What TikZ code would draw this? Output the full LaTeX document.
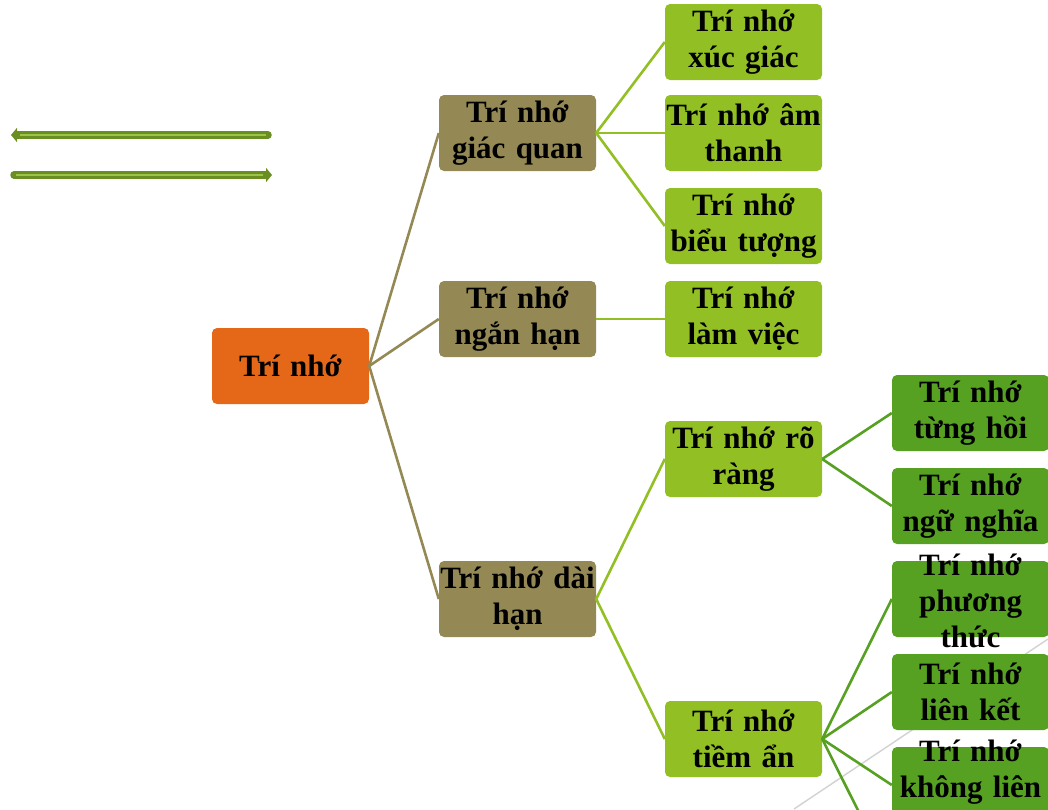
\documentclass[tikz,border=0pt]{standalone}
\usepackage{fontspec}
\setmainfont{Liberation Serif}
\usetikzlibrary{arrows.meta}
\definecolor{rootorange}{RGB}{228, 104, 24}
\definecolor{branchtan}{RGB}{148, 137, 84}
\definecolor{leafgreen}{RGB}{146, 192, 36}
\definecolor{deepgreen}{RGB}{86, 160, 34}
\definecolor{arrowolive}{RGB}{107, 142, 35}
\definecolor{arrowlight}{RGB}{156, 196, 70}

\begin{document}
\begin{tikzpicture}[x=1pt, y=-1pt,
        base/.style={rounded corners=5pt, align=center, text width=157pt, inner xsep=0pt, inner ysep=0pt, minimum height=76pt, font=\fontsize{31}{36}\selectfont\bfseries},
        rootbox/.style={base, fill=rootorange},
        midbox/.style={base, fill=branchtan},
        leafbox/.style={base, fill=leafgreen},
        deepbox/.style={base, fill=deepgreen},
        tall/.style={text height=14pt, text depth=62pt},
        tanlink/.style={line width=2.6pt, draw=branchtan},
        leaflink/.style={line width=2.6pt, draw=leafgreen},
        deeplink/.style={line width=2.6pt, draw=deepgreen},
        bigarrow/.style={draw=arrowolive, line width=7.5pt, line cap=round, -{Triangle[length=6pt, width=14pt]}},
        innerline/.style={draw=arrowlight, line width=1.2pt, shorten >=9pt, shorten <=2pt}
    ]
        \useasboundingbox (0, 0) rectangle (1048, 809);
        \draw [gray!35, line width=1.4pt] (794, 809) -- (1048, 639);

        % Arrows top left
        \coordinate (lstart) at (268, 135);
        \coordinate (lend) at (11, 135);
        \coordinate (rstart) at (14, 175);
        \coordinate (rend) at (272, 175);
        \draw [bigarrow] (lstart) -- (lend);
        \draw [bigarrow] (rstart) -- (rend);
        \draw [innerline] (lstart) -- (lend);
        \draw [innerline] (rstart) -- (rend);

        % Root
        \node (mem) [rootbox] at (290.5, 366) {Trí nhớ};

        % Level 1
        \node (sensory) [midbox] at (517.5, 133) {Trí nhớ\\giác quan};
        \node (short) [midbox] at (517.5, 319) {Trí nhớ\\ngắn hạn};
        \node (long) [midbox] at (517.5, 599) {Trí nhớ dài\\hạn};

        % Level 2
        \node (touch) [leafbox] at (743.5, 42) {Trí nhớ\\xúc giác};
        \node (sound) [leafbox] at (743.5, 133) {Trí nhớ âm\\thanh};
        \node (image) [leafbox] at (743.5, 226) {Trí nhớ\\biểu tượng};
        \node (work) [leafbox] at (743.5, 319) {Trí nhớ\\làm việc};
        \node (explicit) [leafbox] at (743.5, 459) {Trí nhớ rõ\\ràng};
        \node (implicit) [leafbox] at (743.5, 739) {Trí nhớ\\tiềm ẩn};

        % Level 3
        \node (episode) [deepbox] at (970.5, 413) {Trí nhớ\\từng hồi};
        \node (meaning) [deepbox] at (970.5, 506) {Trí nhớ\\ngữ nghĩa};
        \node (method) [deepbox, tall] at (970.5, 599) {Trí nhớ\\phương\\thức};
        \node (assoc) [deepbox] at (970.5, 692) {Trí nhớ\\liên kết};
        \node (nonassoc) [deepbox, tall] at (970.5, 785) {Trí nhớ\\không liên};
        \coordinate (hidden) at (892, 878);

        % Connectors
        \draw [tanlink] (mem.east) -- (sensory.west);
        \draw [tanlink] (mem.east) -- (short.west);
        \draw [tanlink] (mem.east) -- (long.west);
        \draw [leaflink] (sensory.east) -- (touch.west);
        \draw [leaflink] (sensory.east) -- (sound.west);
        \draw [leaflink] (sensory.east) -- (image.west);
        \draw [leaflink] (short.east) -- (work.west);
        \draw [leaflink] (long.east) -- (explicit.west);
        \draw [leaflink] (long.east) -- (implicit.west);
        \draw [deeplink] (explicit.east) -- (episode.west);
        \draw [deeplink] (explicit.east) -- (meaning.west);
        \draw [deeplink] (implicit.east) -- (method.west);
        \draw [deeplink] (implicit.east) -- (assoc.west);
        \draw [deeplink] (implicit.east) -- (nonassoc.west);
        \draw [deeplink] (implicit.east) -- (hidden);
    \end{tikzpicture}
\end{document}
